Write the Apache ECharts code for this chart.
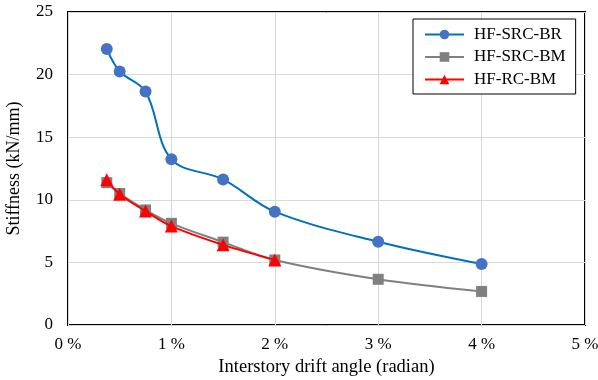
<!DOCTYPE html>
<html>
<head>
<meta charset="utf-8">
<script src="https://cdn.jsdelivr.net/npm/echarts@6/dist/echarts.min.js"></script>
<style>html,body{margin:0;padding:0;background:#fff}#c{width:598px;height:380px}</style>
</head>
<body>
<div id="c"></div>
<script>
var driftBR = [0.375, 0.5, 0.75, 1, 1.5, 2, 3, 4];
var stiffBR = [22.05, 20.25, 18.65, 13.23, 11.63, 9.05, 6.65, 4.87];
var driftSRCBM = [0.375, 0.5, 0.75, 1, 1.5, 2, 3, 4];
var stiffSRCBM = [11.37, 10.5, 9.19, 8.12, 6.62, 5.19, 3.65, 2.68];
var driftRCBM = [0.375, 0.5, 0.75, 1, 1.5, 2];
var stiffRCBM = [11.6, 10.45, 9.1, 7.9, 6.4, 5.2];
var seriesNames = ['HF-SRC-BR', 'HF-SRC-BM', 'HF-RC-BM'];

function pairs(xs, ys) { return xs.map(function (x, i) { return [x, ys[i]]; }); }

var font = 'Liberation Serif, Times New Roman, serif';
var chart = echarts.init(document.getElementById('c'));
chart.setOption({
  animation: false,
  backgroundColor: '#fff',
  textStyle: { fontFamily: font },
  grid: { left: 68, top: 12, right: 13, bottom: 55, show: true, borderColor: '#000', borderWidth: 2,
          containLabel: false, outerBoundsMode: 'none' },
  legend: {
    orient: 'vertical', left: 413, top: 19,
    padding: [7, 10, 6, 11],
    borderColor: '#000', borderWidth: 1, backgroundColor: '#fff',
    itemWidth: 39, itemHeight: 12, itemGap: 5.5,
    textStyle: { fontFamily: font, fontSize: 17, color: '#000', padding: [0, 0, 0, 5] },
    data: seriesNames
  },
  xAxis: {
    type: 'value', min: 0, max: 5, interval: 1,
    name: 'Interstory drift angle (radian)', nameLocation: 'middle', nameGap: 32,
    nameTextStyle: { fontFamily: font, fontSize: 18.5, color: '#000' },
    axisLine: { show: false }, axisTick: { show: false },
    axisLabel: { fontFamily: font, fontSize: 17, color: '#000', margin: 11, formatter: function (v) { return v + ' %'; } },
    splitLine: { show: true, lineStyle: { color: '#d9d9d9', width: 1 } }
  },
  yAxis: {
    type: 'value', min: 0, max: 25, interval: 5,
    name: 'Stiffness (kN/mm)', nameLocation: 'middle', nameGap: 45,
    nameTextStyle: { fontFamily: font, fontSize: 18, color: '#000' },
    axisLine: { show: false }, axisTick: { show: false },
    axisLabel: { fontFamily: font, fontSize: 17, color: '#000', margin: 15 },
    splitLine: { show: true, lineStyle: { color: '#d9d9d9', width: 1 } }
  },
  series: [
    { name: seriesNames[0], type: 'line', data: pairs(driftBR, stiffBR), smooth: 0.35,
      symbol: 'circle', symbolSize: 12,
      lineStyle: { color: '#0070c0', width: 2 }, itemStyle: { color: '#4472c4' }, z: 2 },
    { name: seriesNames[1], type: 'line', data: pairs(driftSRCBM, stiffSRCBM), smooth: 0.35,
      symbol: 'rect', symbolSize: 11,
      lineStyle: { color: '#808080', width: 2 }, itemStyle: { color: '#808080' }, z: 3 },
    { name: seriesNames[2], type: 'line', data: pairs(driftRCBM, stiffRCBM), smooth: 0.35,
      symbol: 'triangle', symbolSize: 13,
      lineStyle: { color: '#ff0000', width: 2 }, itemStyle: { color: '#ff0000' }, z: 4 }
  ]
});
</script>
</body>
</html>
